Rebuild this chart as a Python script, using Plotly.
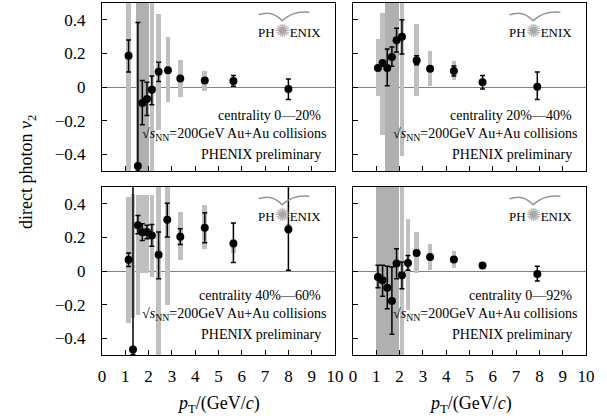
import plotly.graph_objects as go

# ---- data ----
# centrality 0-20%
pt_a = [1.14, 1.54, 1.73, 1.93, 2.14, 2.43, 2.83, 3.36, 4.41, 5.64, 8.0]
v2_a = [0.186, -0.47, -0.095, -0.071, -0.016, 0.091, 0.099, 0.05, 0.038, 0.036, -0.012]
up_a = [0.094, 0.854, 0.133, 0.099, 0.081, 0.056, 0.012, 0.012, 0.015, 0.032, 0.06]
dn_a = [0.096, 0.03, 0.129, 0.099, 0.089, 0.059, 0.012, 0.012, 0.015, 0.032, 0.063]
syshi_a = [0.6, 0.6, 0.6, 0.6, 0.6, 0.436, 0.295, 0.162, 0.097, 0.053, -0.005]
syslo_a = [-0.6, -0.6, -0.6, -0.6, -0.6, -0.254, -0.092, -0.057, -0.026, 0.012, -0.02]

# centrality 20-40%
pt_b = [1.07, 1.27, 1.47, 1.67, 1.87, 2.1, 2.73, 3.31, 4.33, 5.56, 7.91]
v2_b = [0.113, 0.143, 0.113, 0.178, 0.279, 0.299, 0.158, 0.109, 0.095, 0.028, 0.002]
up_b = [0.01, 0.01, 0.113, 0.06, 0.071, 0.101, 0.028, 0.01, 0.03, 0.04, 0.087]
dn_b = [0.01, 0.01, 0.105, 0.055, 0.071, 0.103, 0.025, 0.01, 0.03, 0.04, 0.077]
syshi_b = [0.286, 0.44, 0.6, 0.6, 0.6, 0.6, 0.376, 0.212, 0.152, 0.04, 0.01]
syslo_b = [-0.056, -0.284, -0.6, -0.6, -0.6, -0.413, -0.055, 0.008, 0.044, 0.015, -0.005]

# centrality 40-60%
pt_c = [1.14, 1.33, 1.54, 1.73, 1.93, 2.14, 2.43, 2.8, 3.36, 4.41, 5.64, 8.0]
v2_c = [0.067, -0.467, 0.273, 0.23, 0.232, 0.212, 0.097, 0.305, 0.204, 0.257, 0.164, 0.248]
up_c = [0.04, 1.0, 0.057, 0.051, 0.04, 0.065, 0.135, 0.099, 0.047, 0.09, 0.121, 0.3]
dn_c = [0.04, 0.03, 0.051, 0.048, 0.04, 0.065, 0.143, 0.103, 0.046, 0.089, 0.114, 0.243]
syshi_c = [0.44, 0.46, 0.45, 0.45, 0.45, 0.455, 0.6, 0.6, 0.35, 0.39, 0.19, 0.28]
syslo_c = [-0.31, -0.28, -0.26, -0.014, -0.014, -0.033, -0.6, -0.2, 0.064, 0.133, 0.11, 0.22]

# centrality 0-92%
pt_d = [1.07, 1.27, 1.47, 1.67, 1.87, 2.1, 2.36, 2.73, 3.31, 4.33, 5.56, 7.91]
v2_d = [-0.036, -0.055, -0.099, -0.178, 0.044, -0.026, 0.048, 0.107, 0.083, 0.069, 0.032, -0.018]
up_d = [0.07, 0.089, 0.127, 0.202, 0.089, 0.079, 0.045, 0.01, 0.01, 0.01, 0.01, 0.046]
dn_d = [0.063, 0.095, 0.125, 0.198, 0.09, 0.079, 0.044, 0.01, 0.01, 0.01, 0.01, 0.041]
syshi_d = [0.6, 0.6, 0.6, 0.6, 0.6, 0.6, 0.31, 0.234, 0.162, 0.117, 0.045, 0.0]
syslo_d = [-0.6, -0.6, -0.6, -0.6, -0.6, -0.6, -0.235, -0.014, 0.008, 0.02, 0.02, -0.03]

centrality_labels = ["centrality 0\u201420%", "centrality 20%\u201440%",
                     "centrality 40%\u201460%", "centrality 0\u201492%"]
x_ticks = [0, 1, 2, 3, 4, 5, 6, 7, 8, 9, 10]
y_ticks = [-0.4, -0.2, 0, 0.2, 0.4]
y_ticktext = ["\u22120.4", "\u22120.2", "0", "0.2", "0.4"]

panels = [
    (pt_a, v2_a, up_a, dn_a, syshi_a, syslo_a),
    (pt_b, v2_b, up_b, dn_b, syshi_b, syslo_b),
    (pt_c, v2_c, up_c, dn_c, syshi_c, syslo_c),
    (pt_d, v2_d, up_d, dn_d, syshi_d, syslo_d),
]
# style: which systematic boxes appear in the darker (overlapping) shade
dark_boxes = [{1, 2, 3}, {2, 3, 4}, set(), {0, 1, 2, 3, 4}]
LIGHT = "rgb(192,192,192)"
DARK = "rgb(176,176,176)"

SERIF = "Liberation Serif, Times New Roman, Times, serif"
fig = go.Figure()

axnames = [("x", "y"), ("x2", "y2"), ("x3", "y3"), ("x4", "y4")]
for i, (pt, v2, up, dn, hi, lo) in enumerate(panels):
    xa, ya = axnames[i]
    colors = [DARK if k in dark_boxes[i] else LIGHT for k in range(len(pt))]
    fig.add_trace(go.Bar(
        x=pt, y=[h - l for h, l in zip(hi, lo)], base=lo, width=0.2,
        marker=dict(color=colors, line=dict(width=0)),
        xaxis=xa, yaxis=ya, showlegend=False, hoverinfo="skip"))
    fig.add_trace(go.Scatter(
        x=pt, y=v2, mode="markers",
        marker=dict(color="black", size=8),
        error_y=dict(type="data", symmetric=False, array=up, arrayminus=dn,
                     color="black", thickness=1.5, width=2.5),
        xaxis=xa, yaxis=ya, showlegend=False))

# domains
xd_left = [0, 233 / 484]
xd_right = [251 / 484, 1]
yd_top = [184 / 352, 1]
yd_bot = [0, 168 / 352]

def xaxis(domain, anchor, labels):
    return dict(domain=domain, anchor=anchor, range=[0, 10], tickvals=x_ticks,
                showticklabels=labels, ticks="inside", ticklen=5, tickcolor="black",
                showline=True, linecolor="black", linewidth=1, mirror=True,
                showgrid=False, zeroline=False, ticklabelstandoff=6,
                tickfont=dict(family=SERIF, size=17, color="black"))

def yaxis(domain, anchor, labels):
    return dict(domain=domain, anchor=anchor, range=[-0.5, 0.5], tickvals=y_ticks,
                ticktext=y_ticktext,
                showticklabels=labels, ticks="inside", ticklen=5, tickcolor="black",
                showline=True, linecolor="black", linewidth=1, mirror=True,
                showgrid=False, zeroline=True, zerolinecolor="rgb(130,130,130)",
                zerolinewidth=1.2, ticklabelstandoff=12,
                tickfont=dict(family=SERIF, size=17, color="black"))

fig.update_layout(
    width=607, height=419,
    margin=dict(l=102, r=21, t=3, b=64),
    paper_bgcolor="white", plot_bgcolor="white",
    barmode="overlay", bargap=0,
    font=dict(family=SERIF, color="black"),
    xaxis=xaxis(xd_left, "y", False), yaxis=yaxis(yd_top, "x", True),
    xaxis2=xaxis(xd_right, "y2", False), yaxis2=yaxis(yd_top, "x2", False),
    xaxis3=xaxis(xd_left, "y3", True), yaxis3=yaxis(yd_bot, "x3", True),
    xaxis4=xaxis(xd_right, "y4", True), yaxis4=yaxis(yd_bot, "x4", False),
)

annotations = []
shapes = []
line_y = [[0.333, 0.220, 0.101], [0.333, 0.220, 0.101],
          [0.357, 0.244, 0.125], [0.357, 0.244, 0.125]]
for i in range(4):
    xa, ya = axnames[i]
    xr, yr = xa + " domain", ya + " domain"
    texts = [centrality_labels[i],
             "\u221a<i>s</i><sub>NN</sub>=200GeV Au+Au collisions",
             "PHENIX preliminary"]
    shifts = [0, 5, 0]
    for t, yy, sh in zip(texts, line_y[i], shifts):
        annotations.append(dict(text=t, xref=xr, yref=yr, x=0.948, y=yy,
                                xanchor="right", yanchor="middle", xshift=sh,
                                showarrow=False,
                                font=dict(family=SERIF, size=14, color="black")))
    # PHENIX logo
    annotations.append(dict(
        text="PH<span style='color:#a8a8a8;font-size:18px'>\u273a</span>ENIX",
        xref=xr, yref=yr, x=0.805, y=0.835,
        xanchor="center", yanchor="middle", showarrow=False,
        font=dict(family=SERIF, size=13, color="black")))
    shapes.append(dict(type="path", xref=xr, yref=yr,
                       path="M 0.672,0.93 Q 0.73,0.96 0.773,0.895 Q 0.82,0.955 0.89,0.945",
                       line=dict(color="rgb(150,150,150)", width=1.5)))

annotations.append(dict(text="direct photon <i>v</i><sub>2</sub>", xref="paper", yref="paper",
                        x=(28 - 102) / 484, y=0.52, xanchor="center", yanchor="middle",
                        textangle=-90, showarrow=False,
                        font=dict(family=SERIF, size=18, color="black")))
for cx in [(218 - 102) / 484, (470 - 102) / 484]:
    annotations.append(dict(text="<i>p</i><sub>T</sub>/(GeV/<i>c</i>)", xref="paper", yref="paper",
                            x=cx, y=(355 - 404) / 352, xanchor="center", yanchor="middle",
                            showarrow=False,
                            font=dict(family=SERIF, size=18, color="black")))

fig.update_layout(annotations=annotations, shapes=shapes)
fig.write_html("out.html", config={"displayModeBar": False},
               post_script="document.body.style.margin='0';")
